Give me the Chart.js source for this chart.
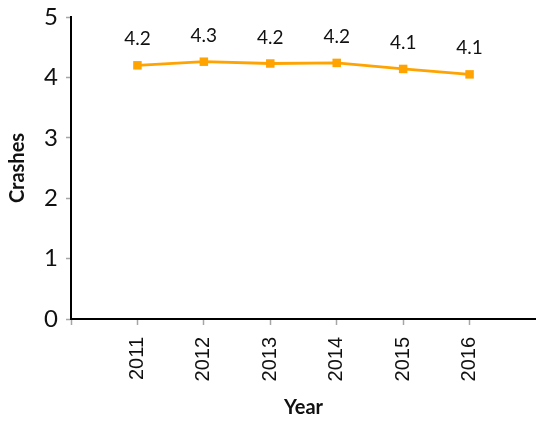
<!DOCTYPE html>
<html>
<head>
<meta charset="utf-8">
<script src="https://cdn.jsdelivr.net/npm/chart.js@4.4.1/dist/chart.umd.min.js"></script>
<style>
  html, body { margin: 0; padding: 0; background: #fff; }
  #wrap { width: 536px; height: 422px; }
</style>
</head>
<body>
<div id="wrap"><canvas id="chart" width="536" height="422"></canvas></div>
<script>
/* ---------- DATA ---------- */
const years = [2011, 2012, 2013, 2014, 2015, 2016];
const crashes = [4.2, 4.26, 4.23, 4.24, 4.14, 4.05];
const crashLabels = ["4.2", "4.3", "4.2", "4.2", "4.1", "4.1"];
const yTicks = [0, 1, 2, 3, 4, 5];

const ORANGE = "#FFA300";
const TICK_GREY = "#a6a6a6";

/* ---------- VALUE LABELS ---------- */
const valueLabels = {
  id: "valueLabels",
  afterDatasetsDraw(chart) {
    const ctx = chart.ctx;
    const meta = chart.getDatasetMeta(0);
    ctx.save();
    ctx.font = "19px Lato";
    ctx.fillStyle = "#111";
    ctx.textAlign = "center";
    ctx.textBaseline = "alphabetic";
    meta.data.forEach((pt, i) => {
      ctx.fillText(crashLabels[i], pt.x, pt.y - 20);
    });
    ctx.restore();
  },
};

new Chart(document.getElementById("chart"), {
  type: "line",
  data: {
    datasets: [
      {
        label: "Crashes",
        data: years.map((y, i) => ({ x: y, y: crashes[i] })),
        borderColor: ORANGE,
        backgroundColor: ORANGE,
        borderWidth: 2.8,
        tension: 0,
        pointStyle: "rect",
        pointRadius: 6,
        pointBorderWidth: 0,
        fill: false,
      },
    ],
  },
  options: {
    responsive: false,
    animation: false,
    layout: { autoPadding: false, padding: { top: 17, right: 0, left: 0, bottom: 0 } },
    plugins: { legend: { display: false }, tooltip: { enabled: false } },
    scales: {
      x: {
        type: "linear",
        min: 2010,
        max: 2017,
        afterFit: (s) => {
          s.height = 103;
          s.paddingLeft = 0;
          s.paddingRight = 0;
        },
        border: { color: "#000", width: 2 },
        grid: {
          drawOnChartArea: false,
          tickLength: 6,
          tickColor: (c) => (c.tick && c.tick.value === 2017 ? "rgba(0,0,0,0)" : TICK_GREY),
          tickWidth: 1.5,
        },
        ticks: {
          stepSize: 1,
          minRotation: 90,
          maxRotation: 90,
          padding: 12,
          color: "#111",
          font: { family: "'Liberation Sans', Arial, sans-serif", size: 20 },
          callback: (v) => (years.includes(v) ? String(v) : ""),
        },
        title: {
          display: true,
          text: "Year",
          color: "#111",
          font: { family: "Lato", size: 20, weight: "bold" },
          padding: { top: 4, bottom: 2 },
        },
      },
      y: {
        min: yTicks[0],
        max: yTicks[yTicks.length - 1],
        afterFit: (s) => {
          s.width = 71;
          s.paddingTop = 0;
          s.paddingBottom = 0;
        },
        border: { color: "#000", width: 2 },
        grid: {
          drawOnChartArea: false,
          tickLength: 5,
          tickColor: TICK_GREY,
          tickWidth: 1.5,
        },
        ticks: {
          stepSize: 1,
          padding: 8,
          color: "#111",
          font: { family: "Lato", size: 24 },
        },
        title: {
          display: true,
          text: "Crashes",
          color: "#111",
          font: { family: "Lato", size: 20, weight: "bold" },
          padding: { top: 6, bottom: 2 },
        },
      },
    },
  },
  plugins: [valueLabels],
});
</script>
</body>
</html>
